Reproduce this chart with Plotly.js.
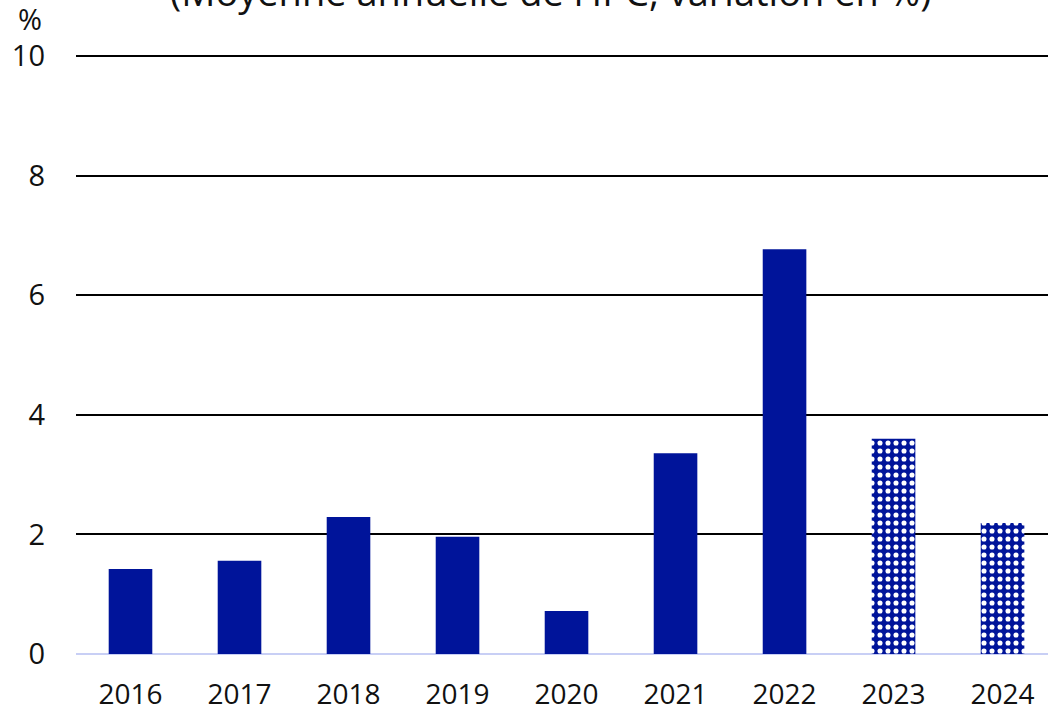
<!DOCTYPE html>
<html><head><meta charset="utf-8">
<script src="https://cdn.plot.ly/plotly-3.0.1.min.js"></script>
<style>html,body{margin:0;padding:0;background:#fff}#c{width:1048px;height:712px}</style>
</head><body><div id="c"></div>
<script>
const years = ["2016","2017","2018","2019","2020","2021","2022","2023","2024"];
const actualYears = ["2016","2017","2018","2019","2020","2021","2022"];
const actualValues = [1.42, 1.56, 2.29, 1.96, 0.72, 3.36, 6.77];
const forecastYears = ["2023","2024"];
const forecastValues = [3.6, 2.19];
const yTicks = [0, 2, 4, 6, 8, 10];
const titleText = "(Moyenne annuelle de l'IPC, variation en %)";
const unitText = "%";

const blue = "#00149A";
const font = "'Open Sans', sans-serif";

const traces = [
  {type:"bar", x:actualYears, y:actualValues, width:0.4, marker:{color:blue, line:{width:0}}, hoverinfo:"x+y"},
  {type:"bar", x:forecastYears, y:forecastValues, width:0.4,
   marker:{color:blue, line:{width:0}, pattern:{shape:".", fgcolor:"#ffffff", bgcolor:blue, size:8, solidity:0.32, fillmode:"replace"}}, hoverinfo:"x+y"}
];
const layout = {
  width:1048, height:712, showlegend:false, barmode:"overlay",
  paper_bgcolor:"#fff", plot_bgcolor:"#fff",
  margin:{l:76, r:0, t:55, b:58},
  font:{family:font, color:"#111", size:28},
  xaxis:{type:"category", categoryarray:years, categoryorder:"array", range:[-0.5, 8.417],
    showgrid:false, showline:false, zeroline:false, ticks:"", ticklabelstandoff:21,
    tickfont:{size:28, family:font, color:"#111"}},
  yaxis:{range:[0,10.02], tickvals:yTicks, showgrid:true, gridcolor:"#000", gridwidth:2,
    zeroline:true, zerolinecolor:"#C8CFF5", zerolinewidth:2, showline:false, ticks:"",
    ticklabelstandoff:30, tickfont:{size:29, family:font, color:"#111"}},
  annotations:[
    {text:titleText, xref:"paper", yref:"paper", x:(550-76)/972, y:1, yanchor:"bottom", yshift:36, showarrow:false, font:{size:38, family:font, color:"#111"}},
    {text:unitText, xref:"paper", yref:"paper", x:-(76-30)/972, xanchor:"center", y:1, yanchor:"bottom", yshift:15, showarrow:false, font:{size:29, family:font, color:"#111"}}
  ]
};
Plotly.newPlot("c", traces, layout, {staticPlot:true, displayModeBar:false});
</script></body></html>
